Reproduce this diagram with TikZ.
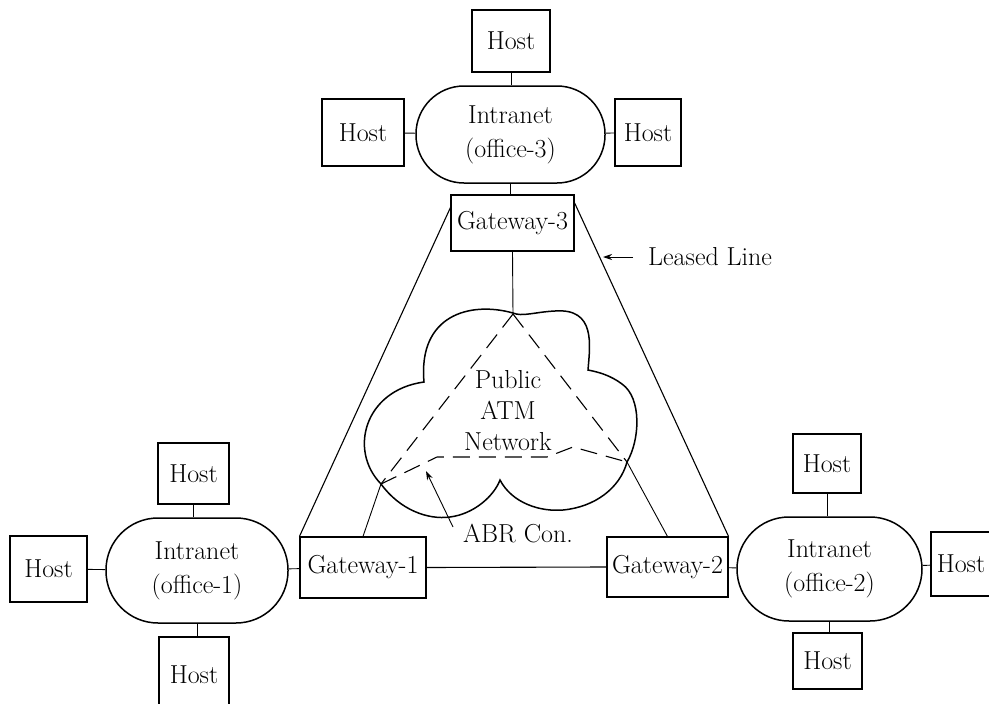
\documentclass[tikz,border=0pt]{standalone}
\usetikzlibrary{arrows.meta}
\newcommand{\dfnt}{\fontsize{26}{34}\selectfont}
\begin{document}
\begin{tikzpicture}[x=1pt,y=-1pt,
  host/.style={draw, line width=1.1pt, inner sep=0pt, font=\dfnt},
  gate/.style={draw, line width=1.1pt, inner sep=0pt, font=\dfnt},
  net/.style={draw, line width=1.5pt, inner sep=0pt, align=center, font=\dfnt},
  link/.style={line width=0.9pt},
  abr/.style={line width=1.1pt, dash pattern=on 17pt off 9pt},
  tip/.style={-{Stealth[length=9pt,width=6pt]}, line width=0.9pt}]
\useasboundingbox (0,0) rectangle (989,704);

% office 3 cluster
\node[host, minimum width=78, minimum height=62] (h3t) at (511,41) {Host};
\node[net, minimum width=189, minimum height=97, rounded corners=48pt] (i3) at (510.5,134.5) {Intranet\\(office-3)};
\node[host, minimum width=82, minimum height=67] (h3l) at (363,132.5) {Host};
\node[host, minimum width=66, minimum height=67] (h3r) at (648,132.5) {Host};
\node[gate, minimum width=123, minimum height=56] (g3) at (512.5,223) {Gateway-3};

% office 1 cluster
\node[host, minimum width=71, minimum height=61] (h1t) at (193.5,473.5) {Host};
\node[net, minimum width=182, minimum height=105, rounded corners=52pt] (i1) at (197,570.5) {Intranet\\(office-1)};
\node[host, minimum width=77, minimum height=66] (h1l) at (48.5,569) {Host};
\node[host, minimum width=70, minimum height=75] (h1b) at (194,674.5) {Host};
\node[gate, minimum width=126, minimum height=61] (g1) at (363,567.5) {Gateway-1};

% office 2 cluster
\node[gate, minimum width=121, minimum height=60] (g2) at (667.5,567) {Gateway-2};
\node[net, minimum width=185, minimum height=104, rounded corners=52pt] (i2) at (829.5,569) {Intranet\\(office-2)};
\node[host, minimum width=68, minimum height=59] (h2t) at (827,463.5) {Host};
\node[host, minimum width=60, minimum height=64] (h2r) at (961,564) {Host};
\node[host, minimum width=69, minimum height=56] (h2b) at (827.5,661) {Host};

% cloud
\coordinate (ct) at (513,314);
\coordinate (cl) at (381,484);
\coordinate (cr) at (627,462);
\draw[line width=1.5pt]
  (513,313) .. controls (470,301) and (418,315) .. (424,382)
  .. controls (365,390) and (348,450) .. (381,484)
  .. controls (400,510) and (428,520) .. (450,517)
  .. controls (474,514) and (494,496) .. (500,480)
  .. controls (512,503) and (540,512) .. (563,510)
  .. controls (595,507) and (620,488) .. (627,462)
  .. controls (640,440) and (642,398) .. (622,384)
  .. controls (610,375) and (598,372) .. (588,370)
  .. controls (590,345) and (596,308) .. (555,311)
  .. controls (535,312) and (522,317) .. (513,313) -- cycle;
\node[align=center, font=\fontsize{26}{31}\selectfont, inner sep=0pt] (atm) at (508,411) {Public\\ATM\\Network};

% ABR connections (dashed)
\draw[abr] (ct) -- (cl);
\draw[abr] (ct) -- (cr);
\draw[abr] (cl) -- (437,457) -- (547,457) -- (573,447) -- (cr);
\coordinate (abrtip) at (426,471);
\node[font=\dfnt, inner sep=0pt, anchor=base west] (abrlbl) at (463,542) {ABR Con.};
\draw[tip] (453,527) -- (abrtip);

% connectors
\draw[link] (h3t.south) -- (h3t.south |- i3.north);
\draw[link] (h3l) -- (i3);
\draw[link] (i3) -- (h3r);
\draw[link] (i3.south) -- (i3.south |- g3.north);
\draw[link] (g3.south) -- (ct);

\draw[link] (h1t.south) -- (h1t.south |- i1.north);
\draw[link] (h1l) -- (i1);
\draw[link] (i1.south) -- (i1.south |- h1b.north);
\draw[link] (i1) -- (g1);

\draw[link] (h2t.south) -- (h2t.south |- i2.north);
\draw[link] (i2) -- (h2r);
\draw[link] (i2.south) -- (i2.south |- h2b.north);
\draw[link] (g2) -- (i2);

\draw[link, line width=1.1pt] (g1.east) -- (g2.west);
\draw[link] (cl) -- (g1.north);
\draw[link] (cr) -- (g2.north);

% leased lines
\draw[link, line width=1.1pt] (g1.north west) -- (g3.166);
\draw[link, line width=1.1pt] (g3.18) -- (g2.north east);
\coordinate (llend) at (603,257);
\node[font=\dfnt, inner sep=0pt, anchor=west] (ll) at (648,257) {Leased Line};
\draw[tip] (633,257) -- (llend);
\end{tikzpicture}
\end{document}
